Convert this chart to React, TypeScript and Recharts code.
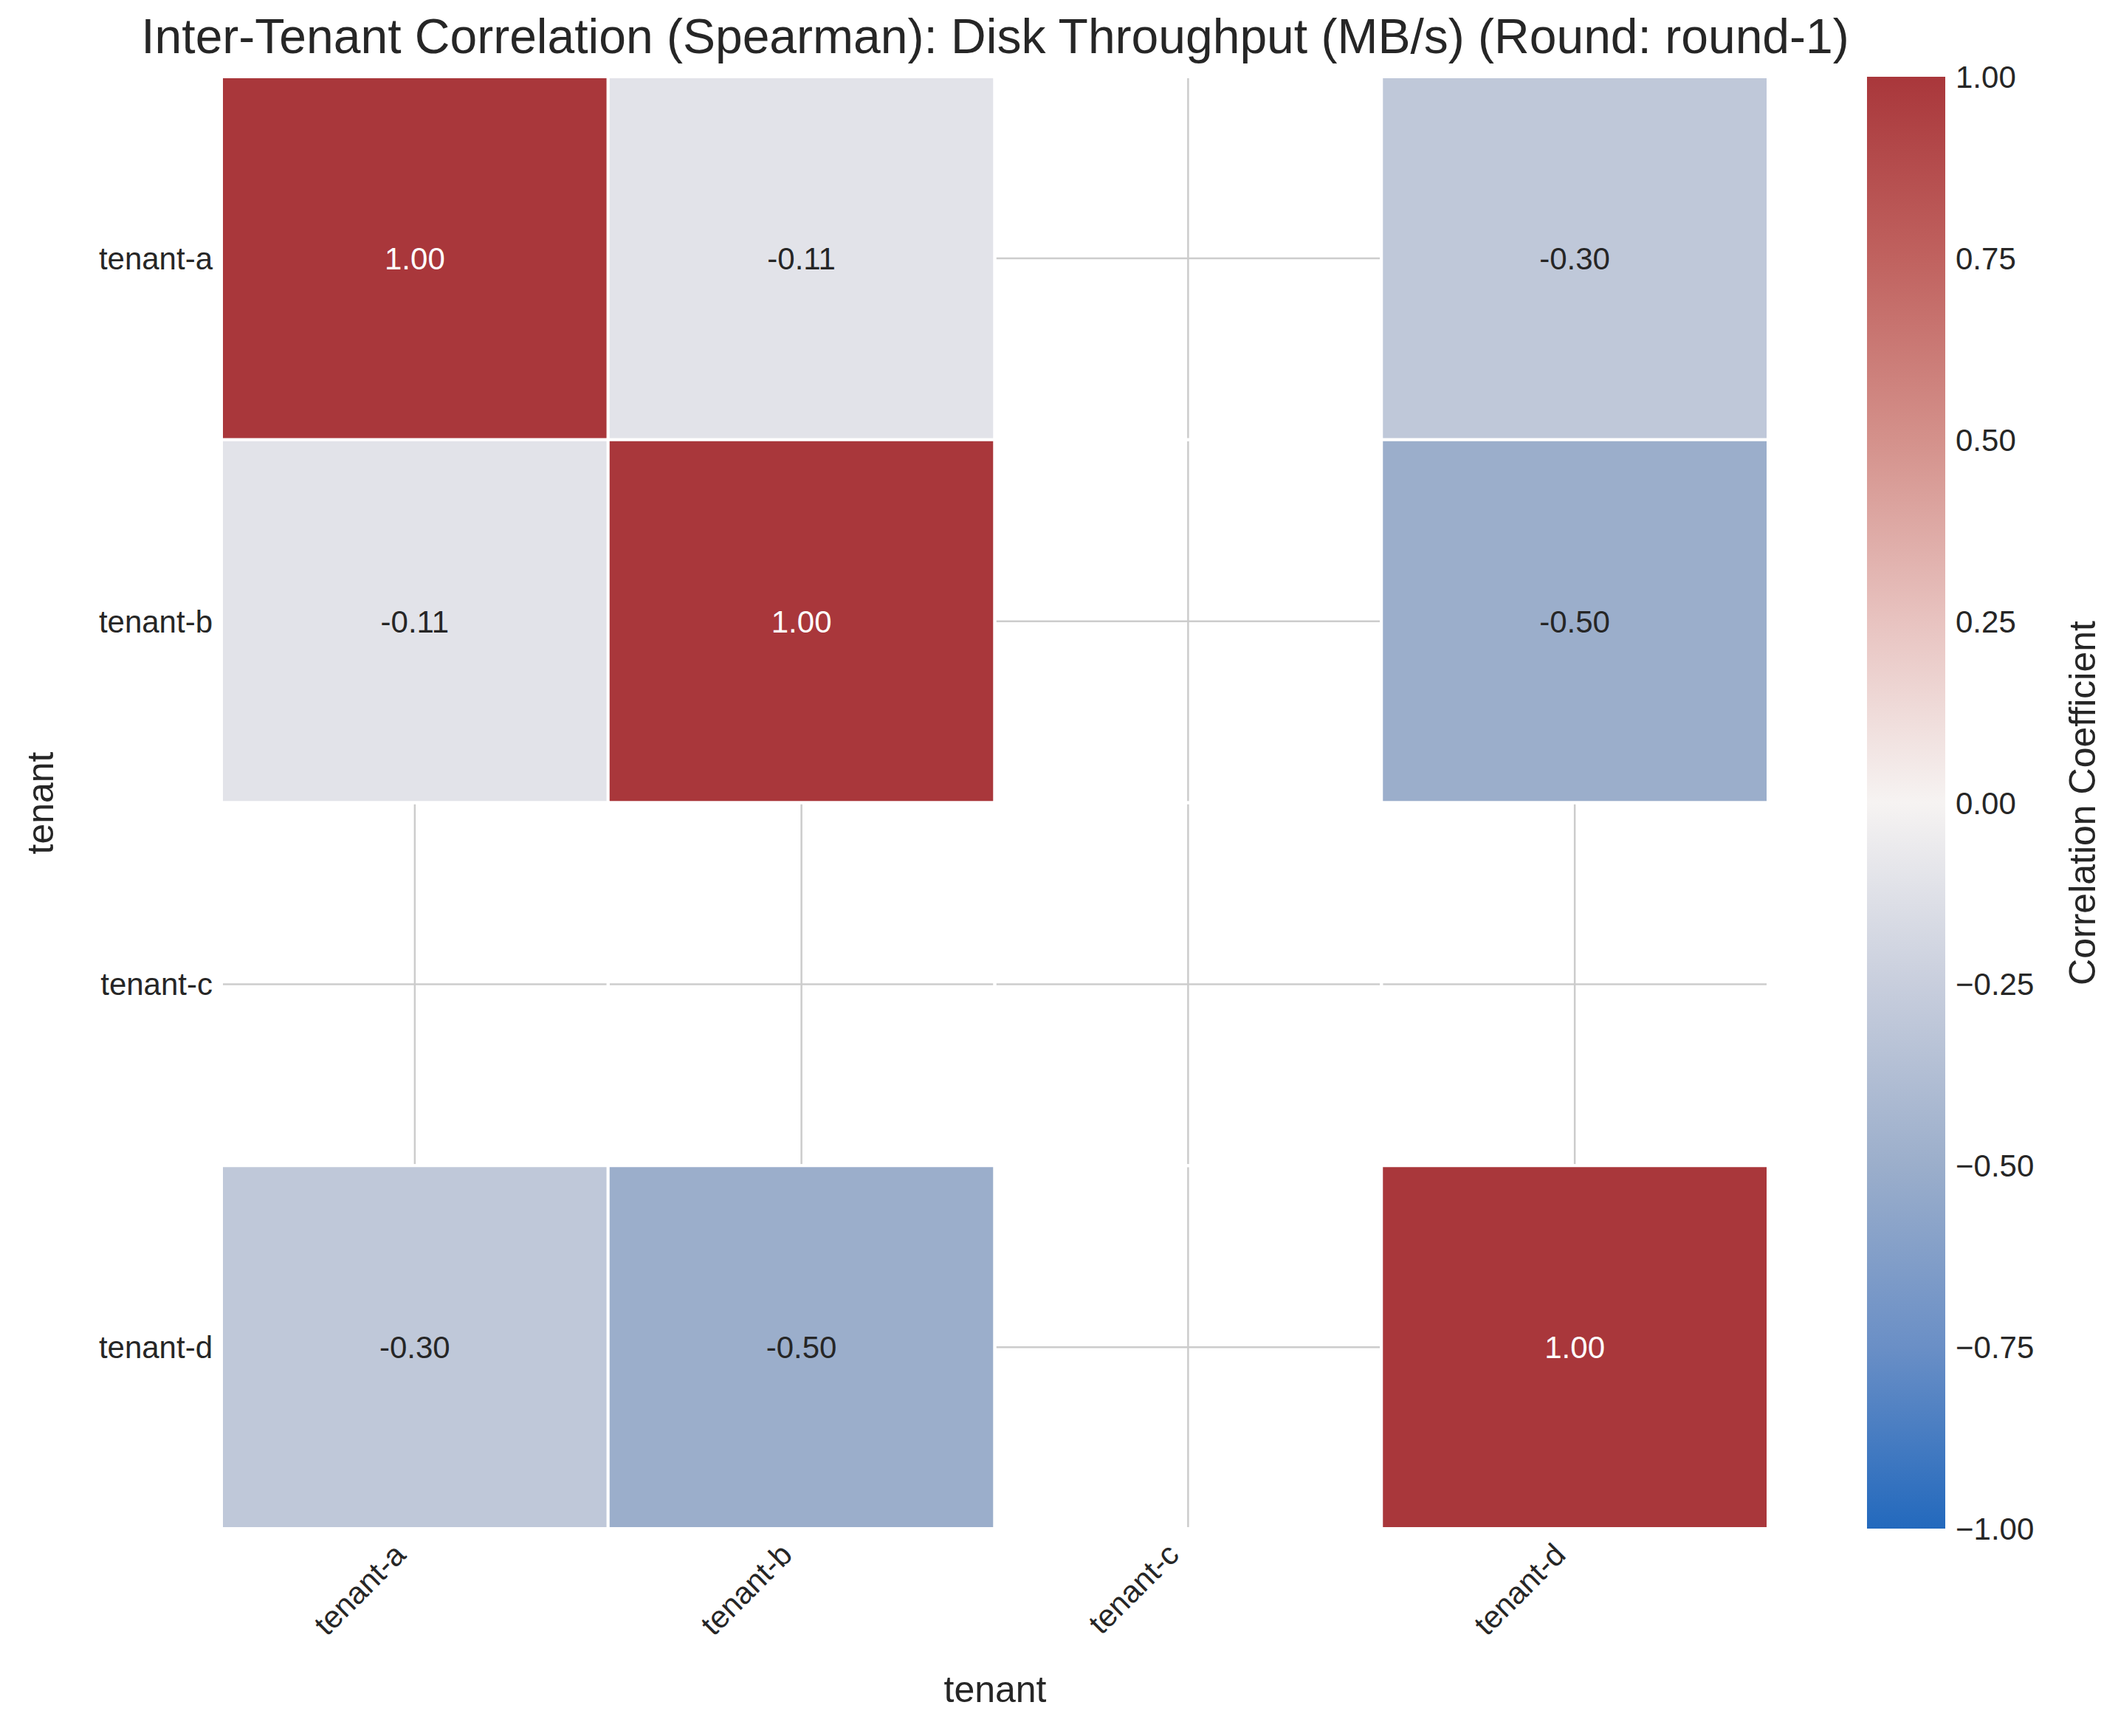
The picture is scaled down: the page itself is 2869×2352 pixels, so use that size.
import React from "react";
import { ScatterChart, XAxis, YAxis, CartesianGrid, ReferenceArea, Scatter } from "recharts";

const tenants = ["tenant-a", "tenant-b", "tenant-c", "tenant-d"];
const matrix: (number | null)[][] = [
  [1.0, -0.11, null, -0.3],
  [-0.11, 1.0, null, -0.5],
  [null, null, null, null],
  [-0.3, -0.5, null, 1.0],
];
const cbTicks = [1, 0.75, 0.5, 0.25, 0, -0.25, -0.5, -0.75, -1];
const stops: [number, string][] = [
  [-1, "#2369bd"],
  [-0.75, "#6a8fc6"],
  [-0.5, "#9baecb"],
  [-0.25, "#c8cedd"],
  [0, "#f6f3f2"],
  [0.25, "#e8c3c0"],
  [0.5, "#d4918b"],
  [0.75, "#c0625f"],
  [1, "#a9373b"],
];

function hex(c: string) {
  return [1, 3, 5].map((i) => parseInt(c.slice(i, i + 2), 16));
}
function colorFor(v: number) {
  for (let i = 0; i < stops.length - 1; i++) {
    const [a, ca] = stops[i];
    const [b, cb] = stops[i + 1];
    if (v >= a && v <= b) {
      const t = (v - a) / (b - a);
      const A = hex(ca), B = hex(cb);
      const m = A.map((x, k) => Math.round(x + (B[k] - x) * t));
      return `rgb(${m[0]},${m[1]},${m[2]})`;
    }
  }
  return stops[stops.length - 1][1];
}

const font = "'Liberation Sans', Arial, sans-serif";
const fmt = (v: number) => (v < 0 ? "\u2212" : "") + Math.abs(v).toFixed(2);

const points = tenants.flatMap((_, r) => tenants.map((__, c) => ({ x: c + 0.5, y: r + 0.5 })));

const XTick = (p: any) => {
  const { x, y, payload } = p;
  return (
    <text x={x - 10} y={y + 30} textAnchor="end" fontSize={42} fill="#262626" fontFamily={font}
      transform={`rotate(-45 ${x - 10} ${y + 30})`}>
      {tenants[Math.floor(payload.value)]}
    </text>
  );
};
const YTick = (p: any) => {
  const { x, y, payload } = p;
  return (
    <text x={x - 4} y={y} dy={15} textAnchor="end" fontSize={42} fill="#262626" fontFamily={font}>
      {tenants[Math.floor(payload.value)]}
    </text>
  );
};

export default function App() {
  const cells: any[] = [];
  matrix.forEach((row, r) =>
    row.forEach((v, c) => {
      cells.push(
        <ReferenceArea key={`${r}-${c}`} x1={c} x2={c + 1} y1={r} y2={r + 1}
          fill={v === null ? "none" : colorFor(v)} fillOpacity={1} stroke="#ffffff" strokeWidth={4}
          ifOverflow="visible"
          label={v === null ? undefined : {
            value: v.toFixed(2), position: "center", fontSize: 42, fontFamily: font,
            fill: v > 0.6 ? "#ffffff" : "#262626",
          }} />
      );
    })
  );
  const cbTop = 104, cbH = 1967, cbX = 2529, cbW = 106;
  return (
    <div style={{ position: "absolute", left: 0, top: 0, width: 2869, height: 2352, background: "#fff", fontFamily: font }}>
      <div style={{ position: "absolute", left: 0, top: 0 }}>
        <ScatterChart width={2460} height={2352} margin={{ left: 100, right: 65, top: 104, bottom: 81 }}>
          <CartesianGrid stroke="#cccccc" strokeWidth={2.5} />
          <XAxis type="number" dataKey="x" domain={[0, 4]} ticks={[0.5, 1.5, 2.5, 3.5]} height={200}
            axisLine={false} tickLine={false} tick={<XTick />} interval={0} allowDataOverflow />
          <YAxis type="number" dataKey="y" domain={[0, 4]} ticks={[0.5, 1.5, 2.5, 3.5]} reversed width={200}
            axisLine={false} tickLine={false} tick={<YTick />} interval={0} allowDataOverflow />
          <Scatter data={points} isAnimationActive={false} shape={() => <g />} />
          {cells}
        </ScatterChart>
      </div>
      <svg width={2869} height={2352} style={{ position: "absolute", left: 0, top: 0, pointerEvents: "none" }}>
        <defs>
          <linearGradient id="cb" x1="0" y1="1" x2="0" y2="0">
            {stops.map(([v, c]) => (
              <stop key={v} offset={`${((v + 1) / 2) * 100}%`} stopColor={c} />
            ))}
          </linearGradient>
        </defs>
        <text x={1348} y={72} textAnchor="middle" fontSize={66} fill="#262626" fontFamily={font}>
          Inter-Tenant Correlation (Spearman): Disk Throughput (MB/s) (Round: round-1)
        </text>
        <text x={1348} y={2306} textAnchor="middle" fontSize={50} fill="#262626" fontFamily={font}>tenant</text>
        <text x={72} y={1088} textAnchor="middle" fontSize={50} fill="#262626" fontFamily={font}
          transform="rotate(-90 72 1088)">tenant</text>
        <rect x={cbX} y={cbTop} width={cbW} height={cbH} fill="url(#cb)" />
        {cbTicks.map((t) => {
          const y = cbTop + ((1 - t) / 2) * cbH;
          return (
            <text key={t} x={cbX + cbW + 14} y={y + 15} fontSize={42} fill="#262626" fontFamily={font}>{fmt(t)}</text>
          );
        })}
        <text x={2838} y={1088} textAnchor="middle" fontSize={50} fill="#262626" fontFamily={font}
          transform="rotate(-90 2838 1088)">Correlation Coefficient</text>
      </svg>
    </div>
  );
}
